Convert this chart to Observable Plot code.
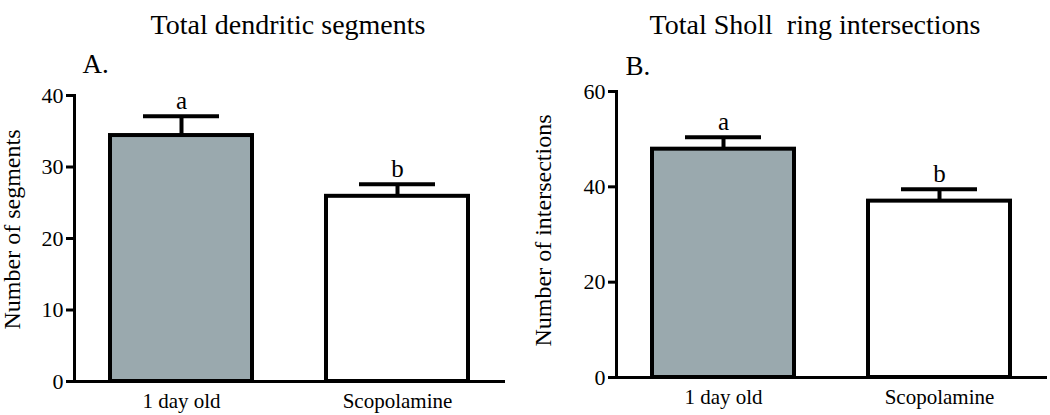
<!DOCTYPE html>
<html>
<head>
<meta charset="utf-8">
<script src="https://cdn.jsdelivr.net/npm/d3@7"></script>
<script src="https://cdn.jsdelivr.net/npm/@observablehq/plot@0.6"></script>
<style>
  body { margin: 0; background: white; }
  #wrap { display: flex; width: 1050px; height: 415px; }
</style>
</head>
<body>
<div id="wrap"></div>
<script>
const groups = ["1 day old", "Scopolamine"];
const segMeans = [34.4, 25.9];
const segSem = [2.7, 1.7];
const intMeans = [47.9, 37.0];
const intSem = [2.5, 2.5];
const letters = ["a", "b"];
const ticksA = [0, 10, 20, 30, 40];
const ticksB = [0, 20, 40, 60];
const barColors = ["#9aa9ae", "#ffffff"];

function panel({means, sems, ticks, ymax, title, tag, ylabel, ml, mr, mt, mb, xr, titleDx, titleDy, tagDx, tagDy, labDx, labDy}) {
  const data = groups.map((g, i) => ({group: g, value: means[i], sem: sems[i], hi: means[i] + sems[i], letter: letters[i]}));
  return Plot.plot({
    width: 525,
    height: 415,
    marginLeft: ml,
    marginRight: mr,
    marginTop: mt,
    marginBottom: mb,
    style: {fontFamily: "Liberation Serif", fontSize: "20px", background: "white", color: "black", overflow: "visible"},
    x: {domain: groups, range: xr, paddingInner: 0.3426, paddingOuter: 0, align: 0.5},
    y: {domain: [0, ymax]},
    color: {domain: groups, range: barColors},
    marks: [
      Plot.barY(data, {x: "group", y: "value", fill: "group", stroke: "black", strokeWidth: 4}),
      Plot.ruleX(data, {x: "group", y1: "value", y2: "hi", stroke: "black", strokeWidth: 4}),
      Plot.tickY(data, {x: "group", y: "hi", stroke: "black", strokeWidth: 4, insetLeft: 33, insetRight: 33}),
      Plot.text(data, {x: "group", y: "hi", text: "letter", dy: -15, fontSize: 25}),
      Plot.ruleY([0], {stroke: "black", strokeWidth: 3}),
      Plot.frame({anchor: "left", stroke: "black", strokeWidth: 3}),
      Plot.axisY({ticks, tickSize: 8, tickPadding: 3, strokeWidth: 3, fontSize: 22, label: null}),
      Plot.axisX({tickSize: 0, tickPadding: 12, fontSize: 21, label: null}),
      Plot.text([ylabel], {frameAnchor: "left", rotate: -90, textAnchor: "middle", dx: labDx, dy: labDy, fontSize: 24}),
      Plot.text([title], {frameAnchor: "top", dx: titleDx, dy: titleDy, fontSize: 28}),
      Plot.text([tag], {frameAnchor: "top-left", textAnchor: "start", dx: tagDx, dy: tagDy, fontSize: 27})
    ]
  });
}

const wrap = document.getElementById("wrap");
wrap.append(panel({
  means: segMeans, sems: segSem, ticks: ticksA, ymax: 40,
  title: "Total dendritic segments", tag: "A.", ylabel: "Number of segments",
  ml: 74, mr: 20, mt: 95, mb: 34, xr: [110, 468],
  titleDx: -2, titleDy: -81, tagDx: 8, tagDy: -42, labDx: -62, labDy: -9
}));
wrap.append(panel({
  means: intMeans, sems: intSem, ticks: ticksB, ymax: 60,
  title: "Total Sholl  ring intersections", tag: "B.", ylabel: "Number of intersections",
  ml: 91, mr: 3, mt: 91, mb: 38, xr: [127, 485],
  titleDx: -17, titleDy: -77, tagDx: 9, tagDy: -36, labDx: -73, labDy: -4
}));
</script>
</body>
</html>
